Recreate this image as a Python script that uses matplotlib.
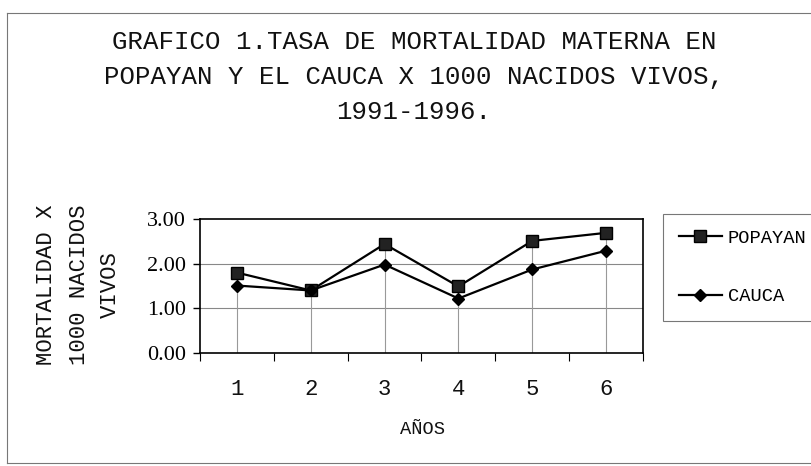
import matplotlib
matplotlib.use("Agg")
import matplotlib.pyplot as plt
from matplotlib.lines import Line2D

years = [1, 2, 3, 4, 5, 6]
popayan = [1.80, 1.40, 2.44, 1.49, 2.51, 2.69]
cauca = [1.51, 1.40, 1.98, 1.22, 1.87, 2.29]
yticks = [0.0, 1.0, 2.0, 3.0]
title = "GRAFICO 1.TASA DE MORTALIDAD MATERNA EN\nPOPAYAN Y EL CAUCA X 1000 NACIDOS VIVOS,\n1991-1996."
ylabel_lines = ["MORTALIDAD X", "1000 NACIDOS", "VIVOS"]
xlabel = "AÑOS"

W, H = 812, 466
fig = plt.figure(figsize=(W / 100, H / 100), dpi=100)
fig.patch.set_facecolor("white")

def fx(px):
    return px / W

def fy(py):
    return 1 - py / H

ax = fig.add_axes([fx(200), fy(353), fx(643) - fx(200), fy(219) - fy(353)])
ax.set_xlim(0.5, 6.5)
ax.set_ylim(0, 3)

# horizontal gridlines
for v in yticks[1:-1]:
    ax.axhline(v, color="#888888", lw=0.8, zorder=1)
# drop lines
for x, a, b in zip(years, popayan, cauca):
    ax.plot([x, x], [0, max(a, b)], color="#999999", lw=0.8, zorder=1)

ax.plot(years, popayan, color="black", lw=1.6, marker="s", ms=8,
        markerfacecolor="#222222", markeredgecolor="black", zorder=3, label="POPAYAN")
ax.plot(years, cauca, color="black", lw=1.6, marker="D", ms=6.5,
        markerfacecolor="black", markeredgecolor="black", zorder=3, label="CAUCA")

for s in ax.spines.values():
    s.set_color("black")
    s.set_linewidth(1.2)

ax.set_yticks(yticks)
ax.set_yticklabels([f"{v:.2f}" for v in yticks], fontfamily="Liberation Serif", fontsize=16)
ax.tick_params(axis="y", direction="out", length=5, width=1, pad=5)

# category ticks at boundaries, labels at centers
ax.set_xticks([x + 0.5 for x in [0] + years])
ax.set_xticklabels([])
ax.set_xticks(years, minor=True)
ax.set_xticklabels([str(y) for y in years], minor=True, fontfamily="Liberation Mono",
                   fontsize=16, color="#111111")
ax.tick_params(axis="x", which="major", direction="out", length=6, width=0.8)
ax.tick_params(axis="x", which="minor", length=0, pad=19)

# title
fig.text(fx(414), fy(30), title, ha="center", va="top", fontfamily="Liberation Mono",
         fontsize=18.5, linespacing=1.58, color="#111111")

# y label (three rotated lines)
for xp, t in zip([47, 80, 110], ylabel_lines):
    fig.text(fx(xp), fy(285), t, rotation=90, ha="center", va="center",
             fontfamily="Liberation Mono", fontsize=16, color="#111111")

fig.text(fx(423), fy(429), xlabel, ha="center", va="center",
         fontfamily="Liberation Mono", fontsize=13.5, color="#111111")

# legend
handles = [
    Line2D([], [], color="black", lw=1.6, marker="s", ms=8, markerfacecolor="#222222"),
    Line2D([], [], color="black", lw=1.6, marker="D", ms=6.5, markerfacecolor="black"),
]
leg = fig.legend(handles, ["POPAYAN", "CAUCA"], loc="upper left",
                 bbox_to_anchor=(fx(663), fy(214)), frameon=True, fancybox=False,
                 prop={"family": "Liberation Mono", "size": 13.5}, handlelength=2.3,
                 labelspacing=2.2, borderpad=0.85, handletextpad=0.3,
                 borderaxespad=0)
leg.get_frame().set_edgecolor("#555555")
leg.get_frame().set_linewidth(0.8)

# outer chart border
fig.add_artist(Line2D([fx(7), fx(812)], [fy(13), fy(13)], color="#777777", lw=0.8))
fig.add_artist(Line2D([fx(7), fx(7)], [fy(13), fy(463)], color="#777777", lw=0.8))
fig.add_artist(Line2D([fx(7), fx(812)], [fy(463), fy(463)], color="#777777", lw=0.8))

fig.savefig("out.png", dpi=100)
